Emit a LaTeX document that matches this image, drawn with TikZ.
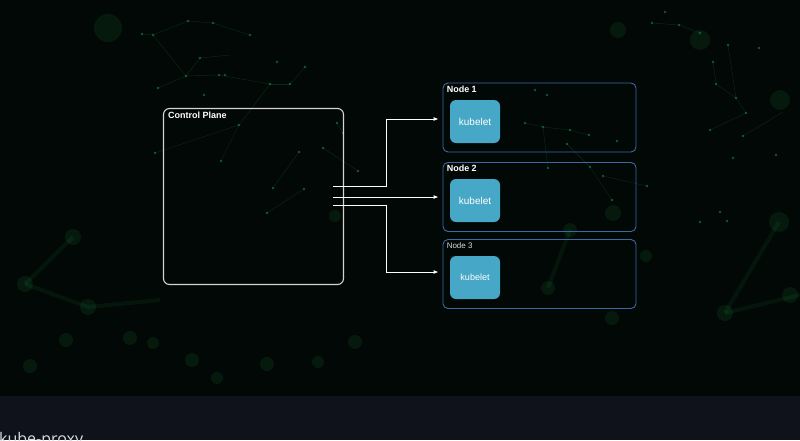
\documentclass[tikz,border=0pt]{standalone}
\usepackage{fontspec}
\setmainfont{Liberation Sans}
\newfontfamily\pagefont{Open Sans}
\usetikzlibrary{arrows.meta}

\definecolor{bgdark}{HTML}{020805}
\definecolor{band}{HTML}{0F121A}
\definecolor{cpline}{HTML}{D4D4D4}
\definecolor{nodeline}{HTML}{3E68A3}
\definecolor{kubefill}{HTML}{47A7C7}
\definecolor{netgreen}{HTML}{1F9A4C}
\definecolor{pagetext}{HTML}{D9DCE0}

\tikzset{
  cpbox/.style={draw=cpline, line width=1.1pt, rounded corners=6pt, inner sep=0pt,
    minimum width=180pt, minimum height=176pt},
  nodebox/.style={draw=nodeline, line width=.9pt, rounded corners=5pt, inner sep=0pt,
    minimum width=193pt, minimum height=69pt},
  kubebox/.style={fill=kubefill, rounded corners=6pt, inner sep=0pt,
    minimum width=50pt, minimum height=43pt, text=white, font=\fontsize{10}{12}\selectfont},
  boxlabel/.style={anchor=north west, inner sep=0pt, text=white, font=\fontsize{9}{11}\selectfont\bfseries},
  link/.style={draw=white, line width=.9pt, -{Latex[length=5pt,width=4pt]}, shorten >=4pt},
  netdot/.style={fill=netgreen, opacity=.55},
  netline/.style={draw=netgreen, opacity=.25, line width=.4pt},
  glow/.style={fill=netgreen, opacity=.12},
}

\begin{document}
\begin{tikzpicture}[x=1pt, y=-1pt]
  \useasboundingbox (0,0) rectangle (800,440);
  \clip (0,0) rectangle (800,440);
  \fill[bgdark] (0,0) rectangle (800,396);
  \fill[band] (0,396) rectangle (800,440);

  % background network
  \foreach \x/\y/\r in {108/28/14, 73/237/8, 25/284/8, 88/307/8, 66/340/7, 130/338/7,
      153/343/6, 192/360/7, 217/378/6, 267/364/7, 318/362/6, 355/342/7, 30/366/7,
      613/213/8, 646/256/6, 570/230/7, 700/40/10, 618/30/8, 725/313/8, 779/222/10,
      780/100/10, 790/295/8, 548/288/7, 612/318/7, 335/216/6}
    \fill[glow] (\x,\y) circle (\r pt);
  \foreach \a/\b/\c/\d in {25/284/73/237, 25/284/88/307, 88/307/160/300, 725/313/779/222,
      725/313/800/295, 548/288/570/230}
    \draw[draw=netgreen, opacity=.1, line width=4pt] (\a,\b) -- (\c,\d);
  \foreach \a/\b/\c/\d in {142/34/153/35, 153/35/188/21, 188/21/213/23, 213/23/250/35,
      153/35/186/76, 186/76/200/58, 200/58/230/55, 186/76/158/88, 186/76/219/75,
      219/75/270/84, 270/84/290/84, 290/84/305/67, 270/84/239/125, 239/125/221/161,
      239/125/155/153, 267/213/304/189, 273/188/299/152, 323/148/358/171, 337/123/343/133,
      525/123/543/127, 543/127/570/130, 570/130/589/135, 543/127/548/168, 567/144/590/167,
      590/167/612/200, 603/176/647/186, 710/130/746/113, 716/84/736/98, 736/98/746/113,
      713/62/716/84, 728/45/736/98, 652/23/679/25, 679/25/700/33, 743/136/783/112}
    \draw[netline] (\a,\b) -- (\c,\d);
  \foreach \x/\y in {142/34, 153/35, 188/21, 213/23, 250/35, 186/76, 200/58, 158/88, 219/75,
      225/75, 270/84, 290/84, 305/67, 239/125, 221/161, 155/153, 267/213, 304/189, 273/188,
      299/152, 323/148, 358/171, 337/123, 343/133, 277/62, 204/95, 525/123, 543/127,
      570/130, 589/135, 548/168, 567/144, 590/167, 612/200, 603/176, 647/186, 535/90,
      547/95, 617/141, 710/130, 746/113, 716/84, 736/98, 713/62, 728/45, 759/48, 743/136,
      652/23, 679/25, 700/33, 665/12, 733/158, 776/155, 700/222, 720/212, 727/221}
    \fill[netdot] (\x,\y) circle (1.3pt);

  % boxes
  \node[cpbox] (cp) at (253.5,196.5) {};
  \node[boxlabel] at ([xshift=5pt,yshift=-4pt]cp.north west) {Control Plane};

  \node[nodebox] (n1) at (539.5,117.5) {};
  \node[nodebox] (n2) at (539.5,197) {};
  \node[nodebox] (n3) at (539.5,274) {};
  \node[boxlabel] at ([xshift=4pt,yshift=-3pt]n1.north west) {Node 1};
  \node[boxlabel] at ([xshift=4pt,yshift=-3pt]n2.north west) {Node 2};
  \node[boxlabel, text=white!85!black, font=\fontsize{8}{10}\selectfont] at ([xshift=4pt,yshift=-3pt]n3.north west) {Node 3};

  \node[kubebox] (k1) at (475,121.5) {kubelet};
  \node[kubebox] (k2) at (475,200.5) {kubelet};
  \node[kubebox, font=\fontsize{9}{11}\selectfont] (k3) at (475,277.5) {kubelet};

  % arrows
  \coordinate (o1) at (333,186);
  \coordinate (o2) at (333,197);
  \coordinate (o3) at (333,205);
  \draw[link] (o1) -- (386,186) |- ([yshift=-1.5pt]n1.west);
  \draw[link] (o2) -- (n2.west);
  \draw[link] (o3) -- (386,205) |- ([yshift=2pt]n3.west);

  \node[anchor=base west, inner sep=0pt, text=pagetext, font=\pagefont\fontsize{16}{19}\selectfont]
    at (-1,444) {kube-proxy};
\end{tikzpicture}
\end{document}
